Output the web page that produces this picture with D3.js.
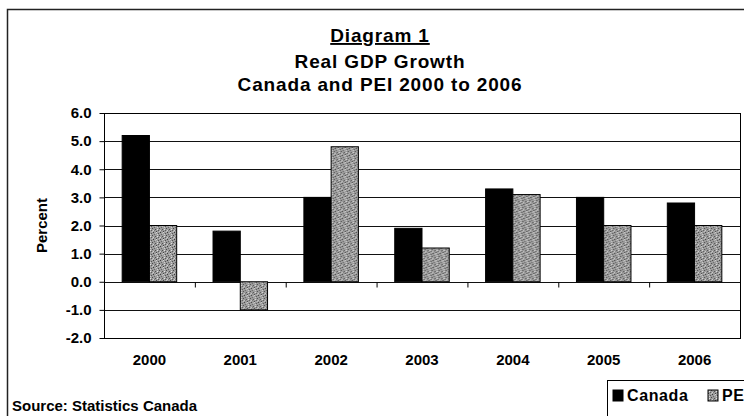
<!DOCTYPE html>
<html>
<head>
<meta charset="utf-8">
<script src="https://cdn.jsdelivr.net/npm/d3@7"></script>
<style>
  body { margin: 0; background: #fff; }
  svg { display: block; font-family: "Liberation Sans", Arial, sans-serif; font-weight: bold; }
</style>
</head>
<body>
<svg id="chart" width="744" height="416"></svg>
<script>
const years = ['2000', '2001', '2002', '2003', '2004', '2005', '2006'];
const seriesNames = ['Canada', 'PEI'];
const canada = [5.2, 1.8, 3.0, 1.9, 3.3, 3.0, 2.8];
const pei = [2.0, -1.0, 4.8, 1.2, 3.1, 2.0, 2.0];
const yTicks = [-2, -1, 0, 1, 2, 3, 4, 5, 6];

const svg = d3.select('#chart');
const margin = {top: 113, right: 4, bottom: 78, left: 104};
const width = 744 - margin.left - margin.right;
const height = 416 - margin.top - margin.bottom;

// speckled grey fill for PEI bars (scanned halftone look)
const defs = svg.append('defs');
const pat = defs.append('pattern')
    .attr('id', 'dither')
    .attr('width', 7).attr('height', 7)
    .attr('patternUnits', 'userSpaceOnUse');
pat.append('rect').attr('width', 7).attr('height', 7).attr('fill', '#9c9c9c');
const speckles = [
  [0, 0, '#3c3c3c'], [3, 0, '#d4d4d4'], [5, 1, '#555'], [1, 2, '#666'], [4, 2, '#cfcfcf'],
  [6, 3, '#4a4a4a'], [2, 4, '#505050'], [0, 5, '#d0d0d0'], [5, 5, '#5a5a5a'], [3, 6, '#444'],
  [2, 1, '#bbb'], [6, 6, '#c4c4c4'], [1, 5, '#777'], [4, 4, '#e0e0e0'],
];
speckles.forEach(([px, py, c]) => pat.append('rect').attr('x', px).attr('y', py)
    .attr('width', 1).attr('height', 1).attr('fill', c));

const colors = {Canada: '#000', PEI: 'url(#dither)'};

// outer frame
svg.append('rect')
    .attr('x', 7.5).attr('y', 9.5)
    .attr('width', 760).attr('height', 420)
    .attr('fill', 'none').attr('stroke', '#222').attr('stroke-width', 1.5);

// titles
const titleX = 380;
const titles = [
  {text: 'Diagram 1', y: 42, underline: true},
  {text: 'Real GDP Growth', y: 68},
  {text: 'Canada and PEI 2000 to 2006', y: 91},
];
titles.forEach(t => {
  svg.append('text').attr('x', titleX).attr('y', t.y).attr('text-anchor', 'middle')
      .attr('font-size', 19).attr('letter-spacing', 0.85)
      .attr('text-decoration', t.underline ? 'underline' : null)
      .text(t.text);
});

const chart = svg.append('g').attr('transform', `translate(${margin.left},${margin.top})`);

const x0 = d3.scaleBand().domain(years).range([0, width]).paddingInner(0).paddingOuter(0);
const x1 = d3.scaleBand().domain(seriesNames).range([x0.bandwidth() * 0.2, x0.bandwidth() * 0.8]);
const y = d3.scaleLinear().domain([-2, 6]).range([height, 0]);

// gridlines
chart.append('g')
    .selectAll('line')
    .data(yTicks)
    .enter().append('line')
    .attr('x1', 0).attr('x2', width)
    .attr('y1', d => Math.round(y(d)) + 0.5).attr('y2', d => Math.round(y(d)) + 0.5)
    .attr('stroke', '#111').attr('stroke-width', 1);

// bars
const groups = chart.selectAll('.group')
    .data(years)
    .enter().append('g')
    .attr('transform', d => `translate(${x0(d)},0)`);

groups.selectAll('rect')
    .data((d, i) => [{s: 'Canada', v: canada[i]}, {s: 'PEI', v: pei[i]}])
    .enter().append('rect')
    .attr('x', d => x1(d.s))
    .attr('y', d => y(Math.max(0, d.v)))
    .attr('width', x1.bandwidth())
    .attr('height', d => Math.abs(y(d.v) - y(0)))
    .attr('fill', d => colors[d.s])
    .attr('stroke', '#000').attr('stroke-width', 1);

// plot border
chart.append('rect')
    .attr('x', 0.5).attr('y', 0.5).attr('width', width).attr('height', height)
    .attr('fill', 'none').attr('stroke', '#000');

// category ticks along zero line
const zeroAxis = chart.append('g')
    .attr('transform', `translate(0,${Math.round(y(0)) + 0.5})`);
zeroAxis.selectAll('line')
    .data(years.slice(1))
    .enter().append('line')
    .attr('x1', d => x0(d) + 0.5).attr('x2', d => x0(d) + 0.5)
    .attr('y1', 0).attr('y2', 5)
    .attr('stroke', '#000');

// y axis (plain hyphen for negatives, like the original)
const yAxis = chart.append('g')
    .attr('transform', 'translate(0.5,0)')
    .call(d3.axisLeft(y).tickValues(yTicks).tickFormat(d => d.toFixed(1)).tickSize(5).tickPadding(8));
yAxis.select('.domain').remove();
yAxis.selectAll('line').attr('stroke', '#000');
yAxis.selectAll('text').attr('font-size', 15).attr('font-family', null).attr('fill', '#000');

// x labels
chart.append('g')
    .selectAll('text')
    .data(years)
    .enter().append('text')
    .attr('x', d => x0(d) + x0.bandwidth() / 2)
    .attr('y', height + 27)
    .attr('text-anchor', 'middle')
    .attr('font-size', 15)
    .text(d => d);

// y title
svg.append('text')
    .attr('transform', `translate(47,${margin.top + height / 2}) rotate(-90)`)
    .attr('text-anchor', 'middle')
    .attr('font-size', 15)
    .text('Percent');

// source
svg.append('text').attr('x', 12).attr('y', 411).attr('font-size', 15)
    .text('Source: Statistics Canada');

// legend
const legend = svg.append('g').attr('transform', 'translate(607,380)');
legend.append('rect').attr('x', 0.5).attr('y', 0.5).attr('width', 160).attr('height', 60)
    .attr('fill', '#fff').attr('stroke', '#000');
seriesNames.forEach((name, i) => {
  const lx = 6 + i * 95;
  legend.append('rect').attr('x', lx).attr('y', 10).attr('width', 10).attr('height', 11)
      .attr('fill', colors[name]).attr('stroke', '#000');
  legend.append('text').attr('x', lx + 14).attr('y', 21).attr('font-size', 16)
      .attr('letter-spacing', 0.6).text(name);
});
</script>
</body>
</html>
